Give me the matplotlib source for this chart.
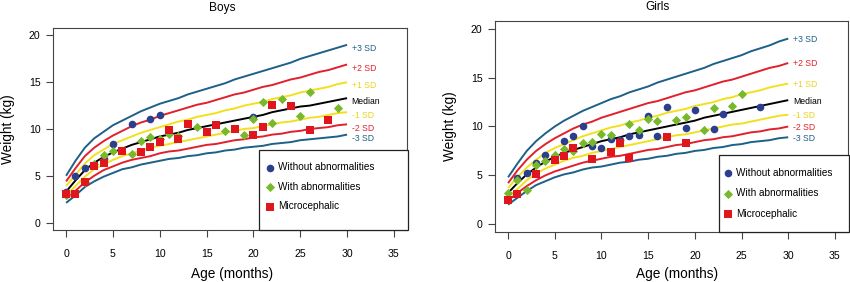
import numpy as np
import matplotlib
matplotlib.use("Agg")
import matplotlib.pyplot as plt
from matplotlib.patches import Rectangle

plt.rcParams["font.family"] = ["Liberation Sans", "DejaVu Sans"]

# =========================
# DATA
# =========================
MONTHS = list(range(31))

# WHO weight-for-age reference curves (kg), one value per month 0..30
BOYS_M3 = [2.1, 2.9, 3.8, 4.4, 4.9, 5.3, 5.7, 5.9, 6.2, 6.4, 6.6, 6.8, 6.9, 7.1, 7.2, 7.4,
           7.5, 7.7, 7.8, 8.0, 8.1, 8.2, 8.4, 8.5, 8.6, 8.8, 8.9, 9.0, 9.1, 9.2, 9.4]
BOYS_M2 = [2.5, 3.4, 4.3, 5.0, 5.6, 6.0, 6.4, 6.7, 6.9, 7.1, 7.4, 7.6, 7.7, 7.9, 8.1, 8.3,
           8.4, 8.6, 8.8, 8.9, 9.1, 9.2, 9.4, 9.5, 9.7, 9.8, 10.0, 10.1, 10.2, 10.4, 10.5]
BOYS_M1 = [2.9, 3.9, 4.9, 5.7, 6.2, 6.7, 7.1, 7.4, 7.7, 8.0, 8.2, 8.4, 8.6, 8.8, 9.0, 9.2,
           9.4, 9.6, 9.8, 10.0, 10.1, 10.3, 10.5, 10.7, 10.8, 11.0, 11.2, 11.3, 11.5, 11.7, 11.8]
BOYS_MED = [3.3, 4.5, 5.6, 6.4, 7.0, 7.5, 7.9, 8.3, 8.6, 8.9, 9.2, 9.4, 9.6, 9.9, 10.1, 10.3,
            10.5, 10.7, 10.9, 11.1, 11.3, 11.5, 11.8, 12.0, 12.2, 12.4, 12.5, 12.7, 12.9, 13.1, 13.3]
BOYS_P1 = [3.9, 5.1, 6.3, 7.2, 7.8, 8.4, 8.8, 9.2, 9.6, 9.9, 10.2, 10.5, 10.8, 11.0, 11.3, 11.5,
           11.7, 12.0, 12.2, 12.5, 12.7, 12.9, 13.2, 13.4, 13.6, 13.9, 14.1, 14.3, 14.5, 14.8, 15.0]
BOYS_P2 = [4.4, 5.8, 7.1, 8.0, 8.7, 9.3, 9.8, 10.3, 10.7, 11.0, 11.4, 11.7, 12.0, 12.3, 12.6, 12.8,
           13.1, 13.4, 13.7, 13.9, 14.2, 14.5, 14.7, 15.0, 15.3, 15.5, 15.8, 16.1, 16.3, 16.6, 16.9]
BOYS_P3 = [5.0, 6.6, 8.0, 9.0, 9.7, 10.4, 10.9, 11.4, 11.9, 12.3, 12.7, 13.0, 13.3, 13.7, 14.0, 14.3,
           14.6, 14.9, 15.3, 15.6, 15.9, 16.2, 16.5, 16.8, 17.1, 17.5, 17.8, 18.1, 18.4, 18.7, 19.0]

GIRLS_M3 = [2.0, 2.7, 3.4, 4.0, 4.4, 4.8, 5.1, 5.3, 5.6, 5.8, 5.9, 6.1, 6.3, 6.4, 6.6, 6.7,
            6.9, 7.0, 7.2, 7.3, 7.5, 7.6, 7.8, 7.9, 8.1, 8.2, 8.4, 8.5, 8.6, 8.8, 8.9]
GIRLS_M2 = [2.4, 3.2, 3.9, 4.5, 5.0, 5.4, 5.7, 6.0, 6.3, 6.5, 6.7, 6.9, 7.0, 7.2, 7.4, 7.6,
            7.7, 7.9, 8.1, 8.2, 8.4, 8.6, 8.7, 8.9, 9.0, 9.2, 9.4, 9.5, 9.7, 9.8, 10.0]
GIRLS_M1 = [2.8, 3.6, 4.5, 5.2, 5.7, 6.1, 6.5, 6.8, 7.0, 7.3, 7.5, 7.7, 7.9, 8.1, 8.3, 8.5,
            8.7, 8.9, 9.1, 9.2, 9.4, 9.6, 9.8, 10.0, 10.2, 10.3, 10.5, 10.7, 10.9, 11.1, 11.2]
GIRLS_MED = [3.2, 4.2, 5.1, 5.8, 6.4, 6.9, 7.3, 7.6, 7.9, 8.2, 8.5, 8.7, 8.9, 9.2, 9.4, 9.6,
             9.8, 10.0, 10.2, 10.4, 10.6, 10.9, 11.1, 11.3, 11.5, 11.7, 11.9, 12.1, 12.3, 12.5, 12.7]
GIRLS_P1 = [3.7, 4.8, 5.8, 6.6, 7.3, 7.8, 8.2, 8.6, 9.0, 9.3, 9.6, 9.9, 10.1, 10.4, 10.6, 10.9,
            11.1, 11.4, 11.6, 11.8, 12.1, 12.3, 12.5, 12.8, 13.0, 13.3, 13.5, 13.7, 14.0, 14.2, 14.4]
GIRLS_P2 = [4.2, 5.5, 6.6, 7.5, 8.2, 8.8, 9.3, 9.8, 10.2, 10.5, 10.9, 11.2, 11.5, 11.8, 12.1, 12.4,
            12.6, 12.9, 13.2, 13.5, 13.7, 14.0, 14.3, 14.6, 14.8, 15.1, 15.4, 15.7, 16.0, 16.2, 16.5]
GIRLS_P3 = [4.8, 6.2, 7.5, 8.5, 9.3, 10.0, 10.6, 11.1, 11.6, 12.0, 12.4, 12.8, 13.1, 13.5, 13.8, 14.1,
            14.5, 14.8, 15.1, 15.4, 15.7, 16.0, 16.4, 16.7, 17.0, 17.3, 17.7, 18.0, 18.3, 18.7, 19.0]

CURVE_LABELS = ["+3 SD", "+2 SD", "+1 SD", "Median", "-1 SD", "-2 SD", "-3 SD"]

# Observed children (age in months, weight in kg)
BOYS_NORMAL_AGE = [0, 1, 2, 4, 5, 7, 9, 10, 20]
BOYS_NORMAL_WT = [3.3, 5.0, 5.8, 6.8, 8.4, 10.5, 11.1, 11.5, 11.25]
BOYS_ABN_AGE = [0, 2, 3, 4, 5, 7, 8, 9, 10, 11, 12, 14, 17, 19, 20, 21, 22, 23, 25, 26, 29]
BOYS_ABN_WT = [2.9, 4.3, 6.3, 7.25, 7.6, 7.3, 8.75, 9.1, 8.9, 9.5, 9.3, 10.25, 9.8, 9.4,
               11.1, 12.9, 10.6, 13.2, 11.4, 14.0, 12.25]
BOYS_MICRO_AGE = [0, 1, 2, 3, 4, 6, 8, 9, 10, 11, 12, 13, 15, 16, 18, 20, 21, 22, 24, 26, 28]
BOYS_MICRO_WT = [3.1, 3.1, 4.35, 6.0, 6.4, 7.6, 7.5, 8.1, 8.6, 9.9, 8.9, 10.5, 9.7, 10.45,
                 10.0, 9.35, 10.2, 12.6, 12.5, 9.9, 11.0]

GIRLS_NORMAL_AGE = [1, 2, 3, 4, 6, 7, 8, 9, 10, 11, 12, 13, 14, 15, 16, 17, 19, 20, 22, 23, 27]
GIRLS_NORMAL_WT = [4.7, 5.25, 6.3, 7.1, 8.5, 9.0, 10.1, 8.0, 7.8, 8.7, 8.6, 9.05, 9.1, 11.1,
                   9.05, 12.0, 9.8, 11.7, 9.75, 11.25, 11.95]
GIRLS_ABN_AGE = [0, 1, 2, 3, 4, 5, 6, 7, 8, 9, 10, 11, 13, 14, 15, 16, 18, 19, 21, 22, 24, 25]
GIRLS_ABN_WT = [3.2, 4.5, 3.5, 6.1, 6.45, 7.1, 7.7, 7.5, 8.3, 8.4, 9.2, 9.1, 10.3, 9.6, 10.75,
                10.55, 10.7, 10.95, 9.65, 11.85, 12.1, 13.3]
GIRLS_MICRO_AGE = [0, 1, 3, 5, 6, 7, 9, 11, 12, 13, 17, 19]
GIRLS_MICRO_WT = [2.5, 3.1, 5.1, 6.55, 7.0, 7.8, 6.65, 7.4, 8.3, 6.75, 8.95, 8.3]

# =========================
# STYLE
# =========================
C_SD3 = "#1d6088"
C_SD2 = "#e2202b"
C_SD1 = "#f2e01e"
C_MED = "#000000"
CURVE_COLORS = [C_SD3, C_SD2, C_SD1, C_MED, C_SD1, C_SD2, C_SD3]
LABEL_COLORS = [C_SD3, C_SD2, "#e8d41a", C_MED, "#e8d41a", C_SD2, C_SD3]
C_BLUE = "#2c3e8e"
C_GREEN = "#78b82c"
C_RED = "#e0161f"
SPINE = "#444444"


def draw_panel(ax, curves, normal, abn, micro, title, label_shift,
               title_x, title_pad, xlab_pos, box, leg_anchor, leg_spacing):
    for vals, col in zip(curves, CURVE_COLORS):
        ax.plot(MONTHS, vals, color=col, lw=1.4, solid_capstyle="butt", zorder=2)
    for vals, txt, col in zip(curves, CURVE_LABELS, LABEL_COLORS):
        ax.text(30.5, vals[-1] + label_shift, txt, color=col, fontsize=6.2,
                ha="left", va="center")

    ax.scatter(normal[0], normal[1], marker="o", s=30, color=C_BLUE, lw=0,
               zorder=4, label="Without abnormalities")
    ax.scatter(abn[0], abn[1], marker="D", s=22, color=C_GREEN, lw=0,
               zorder=4, label="With abnormalities")
    ax.scatter(micro[0], micro[1], marker="s", s=28, color=C_RED, lw=0,
               zorder=4, label="Microcephalic")

    ax.set_xlim(-1.4, 36.4)
    ax.set_ylim(-0.8, 20.8)
    ax.set_xticks(range(0, 36, 5))
    ax.set_yticks(range(0, 21, 5))
    ax.tick_params(axis="both", direction="out", length=5, width=0.8,
                   color=SPINE, labelsize=7.6)
    ax.tick_params(axis="x", pad=9)
    ax.tick_params(axis="y", pad=4)
    for s in ax.spines.values():
        s.set_color(SPINE)
        s.set_linewidth(0.8)

    ax.set_title(title, fontsize=8.6, x=title_x, pad=title_pad)
    ax.set_xlabel("Age (months)", fontsize=9.8)
    ax.set_ylabel("Weight (kg)", fontsize=9.8)
    ax.xaxis.set_label_coords(*xlab_pos)
    ax.yaxis.set_label_coords(-0.107, 0.5)

    # legend box sits in the lower right corner of the plot region
    ax.add_patch(Rectangle(box[:2], box[2], box[3], transform=ax.transAxes,
                           facecolor="white", edgecolor="#222222", lw=0.9,
                           zorder=5, clip_on=False))
    leg = ax.legend(loc="upper left", bbox_to_anchor=leg_anchor,
                    borderaxespad=0, borderpad=0, fontsize=7.2, frameon=False,
                    labelspacing=leg_spacing, handletextpad=0.3,
                    handlelength=1.0, scatterpoints=1)
    leg.set_zorder(6)


fig = plt.figure(figsize=(8.5, 2.82), dpi=100)
ax_b = fig.add_axes([53 / 850, 1 - 230 / 282, 354 / 850, 202 / 282])
ax_g = fig.add_axes([495 / 850, 1 - 232 / 282, 353 / 850, 211 / 282])

draw_panel(ax_b,
           [BOYS_P3, BOYS_P2, BOYS_P1, BOYS_MED, BOYS_M1, BOYS_M2, BOYS_M3],
           (BOYS_NORMAL_AGE, BOYS_NORMAL_WT), (BOYS_ABN_AGE, BOYS_ABN_WT),
           (BOYS_MICRO_AGE, BOYS_MICRO_WT), "Boys", -0.4, 0.477, 12,
           (0.506, -0.183), (0.582, 0.0, 0.42, 0.396), (0.599, 0.335), 0.95)
draw_panel(ax_g,
           [GIRLS_P3, GIRLS_P2, GIRLS_P1, GIRLS_MED, GIRLS_M1, GIRLS_M2, GIRLS_M3],
           (GIRLS_NORMAL_AGE, GIRLS_NORMAL_WT), (GIRLS_ABN_AGE, GIRLS_ABN_WT),
           (GIRLS_MICRO_AGE, GIRLS_MICRO_WT), "Girls", -0.1, 0.459, 8,
           (0.515, -0.165), (0.635, 0.0, 0.367, 0.365), (0.646, 0.305), 1.05)

fig.savefig("out.png", dpi=100)
